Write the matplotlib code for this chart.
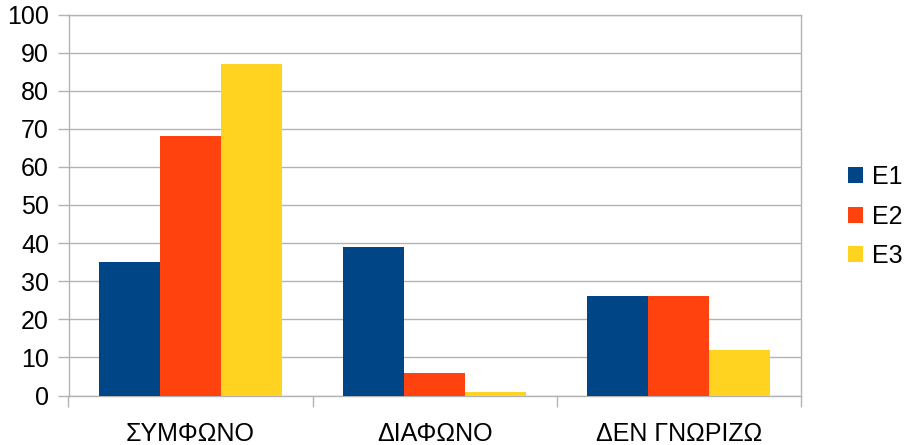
import matplotlib
matplotlib.use("Agg")
import matplotlib.pyplot as plt
from matplotlib.ticker import FixedLocator, NullFormatter
import numpy as np

plt.rcParams['font.family'] = ['Liberation Sans', 'DejaVu Sans']

categories = ["ΣΥΜΦΩΝΟ", "ΔΙΑΦΩΝΟ", "ΔΕΝ ΓΝΩΡΙΖΩ"]
series_names = ["E1", "E2", "E3"]
e1 = [35, 39, 26]
e2 = [68, 6, 26]
e3 = [87, 1, 12]
colors = ["#004586", "#ff420e", "#ffd320"]
yticks = [0, 10, 20, 30, 40, 50, 60, 70, 80, 90, 100]

W, H = 907, 445
fig = plt.figure(figsize=(W / 100, H / 100), dpi=100)
ax = fig.add_axes([68.5 / W, (H - 395.5) / H, (801 - 68.5) / W, (395.5 - 14.5) / H])

x = np.arange(len(categories))
bw = 0.25
for i, (vals, name, c) in enumerate(zip([e1, e2, e3], series_names, colors)):
    ax.bar(x + (i - 1) * bw, vals, width=bw, color=c, label=name, zorder=3)

grid_c = "#b3b3b3"
ax.set_xlim(-0.5, len(categories) - 0.5)
ax.set_ylim(0, 100)
ax.set_yticks(yticks)
ax.yaxis.grid(True, color=grid_c, linewidth=1, zorder=0)
ax.tick_params(axis='y', length=8, width=1, color=grid_c, pad=6, labelsize=18)

ax.xaxis.set_major_locator(FixedLocator(np.arange(-0.5, len(categories), 1.0)))
ax.xaxis.set_major_formatter(NullFormatter())
ax.xaxis.set_minor_locator(FixedLocator(x))
ax.set_xticklabels(categories, minor=True)
ax.tick_params(axis='x', which='major', length=8, width=1, color=grid_c)
ax.tick_params(axis='x', which='minor', length=0, pad=19, labelsize=18)

for s in ax.spines.values():
    s.set_color(grid_c)
    s.set_linewidth(1)

leg = fig.legend(loc='center left', bbox_to_anchor=(848 / W, (H - 216.5) / H),
                 frameon=False, fontsize=18, handlelength=0.6, handleheight=0.6,
                 handletextpad=0.35, labelspacing=0.62, borderpad=0,
                 borderaxespad=0)

fig.savefig("out.png", dpi=100)
